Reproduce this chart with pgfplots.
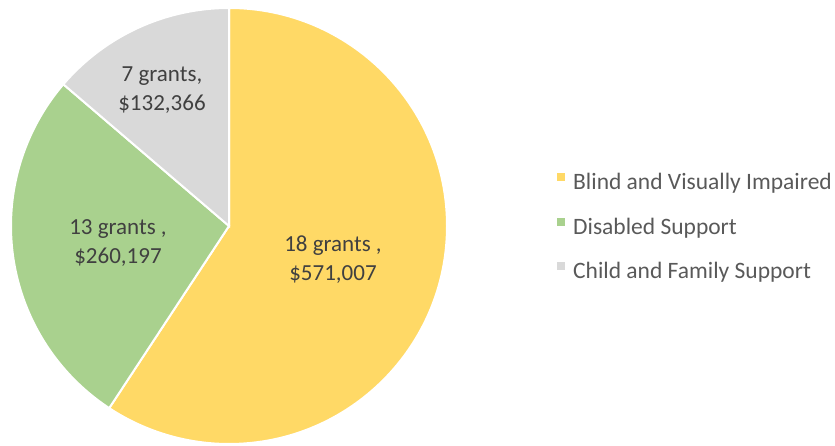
\documentclass[border=0pt]{standalone}
\usepackage{pgfplots}
\pgfplotsset{compat=1.18}
\usepackage{pgfplotstable}
\usepackage{fontspec}
\setmainfont{Carlito}

\definecolor{cBlind}{HTML}{FFD966}
\definecolor{cDis}{HTML}{A9D18E}
\definecolor{cChild}{HTML}{D9D9D9}
\definecolor{txt}{HTML}{404040}
\definecolor{legtxt}{HTML}{595959}

% grants by category (value in $)
\pgfplotstableread[col sep=comma]{
name,value,grants
Blind and Visually Impaired,571007,18
Disabled Support,260197,13
Child and Family Support,132366,7
}\grants

\begin{document}
\pgfplotstablegetelem{0}{value}\of\grants\edef\vA{\pgfplotsretval}%
\pgfplotstablegetelem{1}{value}\of\grants\edef\vB{\pgfplotsretval}%
\pgfplotstablegetelem{2}{value}\of\grants\edef\vC{\pgfplotsretval}%
\edef\tot{\fpeval{\vA+\vB+\vC}}%
\edef\aA{\fpeval{90-360*\vA/\tot}}%
\edef\aB{\fpeval{\aA-360*\vB/\tot}}%
\begin{tikzpicture}[font=\fontsize{23}{29}\selectfont]
\begin{axis}[
    x=1pt, y=1pt,
    xmin=0, xmax=835, ymin=0, ymax=446,
    hide axis, clip=false,
    legend cell align=left,
    legend style={draw=none, fill=none, inner sep=0pt,
        at={(axis cs:557,273)}, anchor=north west,
        text=legtxt, row sep=23pt, column sep=8pt,
        font=\fontsize{23.5}{28}\selectfont,
        nodes={inner sep=0pt, text height=16pt, text depth=5pt}},
    legend image code/.code={\fill[#1, draw=none] (0pt,3pt) rectangle (8pt,11pt);},
]
\coordinate (BL) at (axis cs:0,0);
\coordinate (TR) at (axis cs:835,446);
\addlegendimage{fill=cBlind}
\addlegendentry{Blind and Visually Impaired}
\addlegendimage{fill=cDis}
\addlegendentry{Disabled Support}
\addlegendimage{fill=cChild}
\addlegendentry{Child and Family Support}

\def\ctr{(axis cs:229,220)}
\filldraw[fill=cBlind, draw=white, line width=2pt]
    \ctr -- ([shift={(90:218pt)}]axis cs:229,220)
    arc[start angle=90, end angle=\aA, radius=218pt] -- cycle;
\filldraw[fill=cDis, draw=white, line width=2pt]
    \ctr -- ([shift={(\aA:218pt)}]axis cs:229,220)
    arc[start angle=\aA, end angle=\aB, radius=218pt] -- cycle;
\filldraw[fill=cChild, draw=white, line width=2pt]
    \ctr -- ([shift={(\aB:218pt)}]axis cs:229,220)
    arc[start angle=\aB, end angle=-270, radius=218pt] -- cycle;

\node[align=center, text=txt] at (axis cs:333,186) {18 grants ,\\\$571,007};
\node[align=center, text=txt] at (axis cs:118,203) {13 grants ,\\\$260,197};
\node[align=center, text=txt] at (axis cs:162,356) {7 grants,\\\$132,366};
\end{axis}
\pgfresetboundingbox
\path[use as bounding box] (BL) rectangle (TR);
\end{tikzpicture}
\end{document}
